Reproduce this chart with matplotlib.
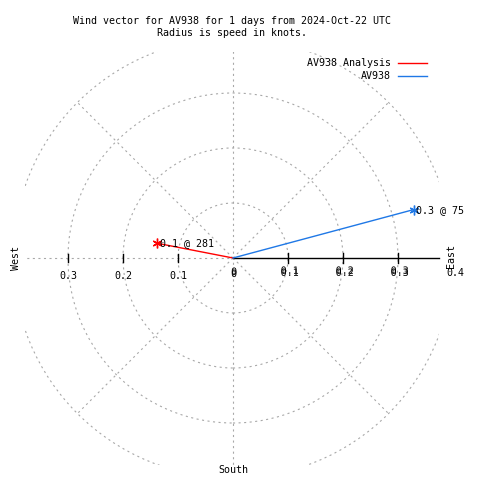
import numpy as np
import matplotlib.pyplot as plt
import matplotlib.patheffects as pe
from matplotlib.patches import Circle, Rectangle

plt.rcParams["font.family"] = "DejaVu Sans Mono"
plt.rcParams["lines.scale_dashes"] = False

title = "Wind vector for AV938 for 1 days from 2024-Oct-22 UTC\nRadius is speed in knots."
series_names = ["AV938 Analysis", "AV938"]
speeds = [0.14, 0.34]
directions = [281, 75]
series_colors = ["#ff0000", "#1f78e6"]
rings = [0.1, 0.2, 0.3, 0.4]
ticks = [0.1, 0.2, 0.3]

FS = 7.2
GRID = dict(color="#a8a8a8", lw=0.8, dashes=(1.5, 2.5))
# the east tick labels are drawn twice, a couple of pixels apart
DOUBLE = [pe.withSimplePatchShadow(offset=(0, 1.5), shadow_rgbFace="black", alpha=1)]


def main():
    fig = plt.figure(figsize=(4.8, 4.8), dpi=100)
    ax = fig.add_axes([0, 0, 1, 1])
    # pixel mapping: centre at (233, 258), 550 px per knot
    ax.set_xlim(-233 / 550, 247 / 550)
    ax.set_ylim(-222 / 550, 258 / 550)
    ax.set_aspect("equal")
    ax.axis("off")

    clip = Rectangle((-0.378, -0.376), 0.7525, 0.7505, transform=ax.transData,
                     fill=False, visible=False)
    ax.add_patch(clip)

    for r in rings:
        c = Circle((0, 0), r, fill=False, linestyle=(0, (1.5, 2.5)),
                   edgecolor="#a8a8a8", lw=0.8)
        ax.add_patch(c)
        c.set_clip_path(clip)

    for ang in [45, 135, 225, 315]:
        a = np.deg2rad(ang)
        ax.plot([0, 0.4 * np.cos(a)], [0, 0.4 * np.sin(a)], **GRID)
    ln = ax.plot([0, 0], [-0.5, 0.5], **GRID)[0]
    ln.set_clip_path(clip)
    ln = ax.plot([-0.5, 0], [0, 0], **GRID)[0]
    ln.set_clip_path(clip)

    # east axis
    ax.plot([0, 0.3745], [0, 0], color="black", lw=1)
    for t in ticks:
        ax.plot([t, t], [-0.009, 0.009], color="black", lw=1)
        ax.plot([-t, -t], [-0.007, 0.007], color="black", lw=1)
        ax.text(-t, -0.032, f"{t:.1f}", ha="center", va="center", fontsize=FS)
        ax.text(t + 0.003, -0.027, f"{t:.1f}", ha="center", va="center",
                fontsize=FS, path_effects=DOUBLE)
    ax.text(0.002, -0.029, "0", ha="center", va="center", fontsize=FS,
            path_effects=DOUBLE)
    ax.text(0.404, -0.027, "0.4", ha="center", va="center", fontsize=FS)

    ax.text(-0.395, 0, "West", rotation=90, ha="center", va="center", fontsize=FS)
    ax.text(0.396, 0.003, "East", rotation=90, ha="center", va="center", fontsize=FS)
    ax.text(0, -0.385, "South", ha="center", va="center", fontsize=FS)

    # wind vectors
    for i, (name, s, d) in enumerate(zip(series_names, speeds, directions)):
        a = np.deg2rad(d)
        x, y = s * np.sin(a), s * np.cos(a)
        ax.plot([0, x], [0, y], color=series_colors[i], lw=1,
                marker=(6, 2, 0), markevery=[1], markersize=7, mew=1)
        ax.text(x + 0.004, y, f"{s:.1f} @ {d}", ha="left", va="center",
                fontsize=FS)
        ly = (258 - 63 - 13 * i) / 550
        ax.text((391 - 233) / 550, ly, name, ha="right", va="center", fontsize=FS)
        ax.plot([(398 - 233) / 550, (427 - 233) / 550], [ly, ly],
                color=series_colors[i], lw=1)

    fig.text(232 / 480, 1 - 27 / 480, title, ha="center", va="center",
             fontsize=FS, linespacing=1.3)

    fig.savefig("out.png", dpi=100)


if __name__ == "__main__":
    main()
